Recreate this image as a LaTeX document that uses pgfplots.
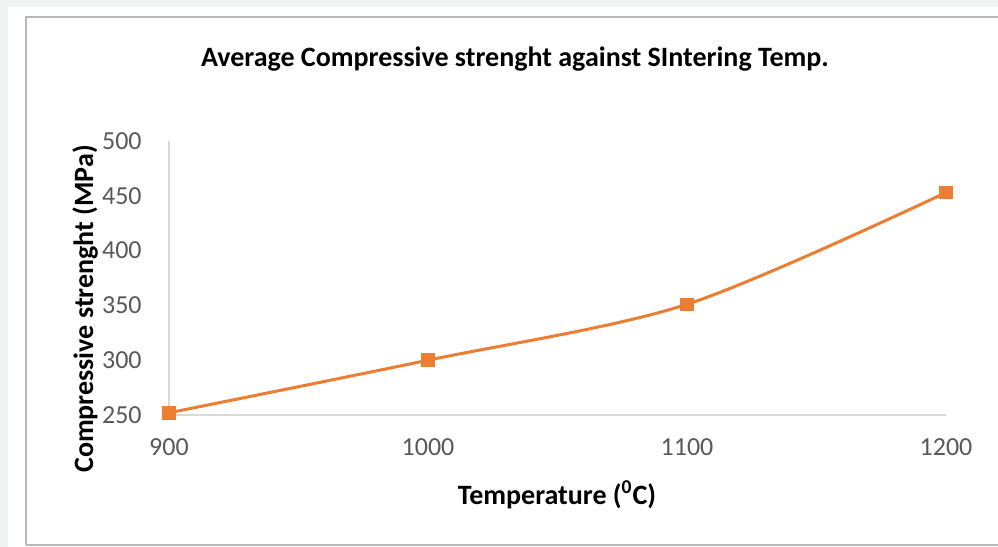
\documentclass[border=0pt]{standalone}
\usepackage{pgfplots}
\pgfplotsset{compat=1.18}
\usepackage{fontspec}
\setmainfont{Carlito}
\definecolor{bgout}{HTML}{F1F2F4}
\definecolor{boxline}{HTML}{B8B8B8}
\definecolor{axline}{HTML}{D9D9D9}
\definecolor{ticktxt}{HTML}{595959}
\definecolor{orangeS}{HTML}{ED7D31}
\begin{document}
\begin{tikzpicture}[x=0.5pt,y=0.5pt]
\useasboundingbox (0,0) rectangle (998,547);
\fill[bgout] (0,0) rectangle (998,547);
\fill[white] (8,0) rectangle (998,540);
\draw[boxline,line width=0.8pt] (26,2) -- (26,530) -- (1010,530);
\draw[boxline,line width=0.8pt] (26,2) -- (1010,2);
\begin{axis}[
  at={(84.5pt,66pt)}, anchor=south west,
  scale only axis, width=388.5pt, height=137pt,
  xmin=900, xmax=1200, ymin=250, ymax=500,
  axis x line=bottom, axis y line=left,
  axis line style={-, axline, line width=0.8pt},
  xtick={900,1000,1100,1200}, ytick={250,300,...,500},
  tick style={draw=none},
  /pgf/number format/assume math mode=true,
  /pgf/number format/1000 sep={},
  ticklabel style={font=\fontsize{13}{15}\selectfont, text=ticktxt},
  yticklabel style={xshift=-8pt},
  xticklabel style={yshift=-6pt},
  clip=false,
]
\addplot[orangeS, line width=1.5pt, smooth, tension=0.5, mark=square*, mark size=2.6pt, mark options={solid}]
  coordinates {(900,252) (1000,300) (1100,351) (1200,453)};
\end{axis}
\node[font=\fontsize{14}{17}\selectfont\bfseries] at (515,488) {Average Compressive strenght against SIntering Temp.};
\node[font=\fontsize{14}{17}\selectfont\bfseries, rotate=90] at (85,238) {Compressive strenght (MPa)};
\node[font=\fontsize{14}{17}\selectfont\bfseries] at (557,52) {Temperature (\textsuperscript{0}C)};
\end{tikzpicture}
\end{document}
